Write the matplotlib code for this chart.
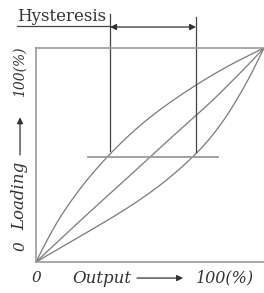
import matplotlib
matplotlib.use("Agg")
from matplotlib import pyplot as plt
from matplotlib.path import Path
from matplotlib.patches import PathPatch

# curves (fraction of full scale)
upper_x = [0, 0.03, 0.07, 0.11, 0.16, 0.22, 0.31, 0.40, 0.48, 0.56, 0.63, 0.70, 0.78, 0.85, 0.93, 1.0]
upper_y = [0, 0.064, 0.145, 0.217, 0.295, 0.38, 0.49, 0.585, 0.66, 0.725, 0.777, 0.826, 0.878, 0.92, 0.964, 1.0]

middle_x = [0, 0.20, 0.35, 0.50, 0.63, 0.70, 0.78, 0.85, 0.93, 1.0]
middle_y = [0, 0.20, 0.344, 0.49, 0.617, 0.683, 0.760, 0.835, 0.92, 1.0]

lower_x = [0, 0.10, 0.20, 0.30, 0.40, 0.50, 0.60, 0.70, 0.76, 0.81, 0.85, 0.89, 0.93, 0.965, 1.0]
lower_y = [0, 0.062, 0.124, 0.186, 0.251, 0.323, 0.405, 0.503, 0.573, 0.642, 0.705, 0.775, 0.851, 0.923, 1.0]

# hysteresis marker
level = 0.49
hyst_left = 0.325
hyst_right = 0.702


def smooth_curve(ax, xs, ys, **kw):
    # quadratic b-spline through the read points, drawn by matplotlib's path renderer
    pts = list(zip(xs, ys))
    verts = [pts[0]]
    codes = [Path.MOVETO]
    for i in range(1, len(pts) - 1):
        mid = ((pts[i][0] + pts[i + 1][0]) / 2, (pts[i][1] + pts[i + 1][1]) / 2)
        if i == len(pts) - 2:
            mid = pts[-1]
        verts += [pts[i], mid]
        codes += [Path.CURVE3, Path.CURVE3]
    ax.add_patch(PathPatch(Path(verts, codes), fill=False, **kw))


W, H = 264, 293
fig = plt.figure(figsize=(W / 100, H / 100), dpi=100)
ax = fig.add_axes([36 / W, (H - 262) / H, 228 / W, 214 / H])
ax.set_xlim(0, 1)
ax.set_ylim(0, 1)
ax.set_xticks([])
ax.set_yticks([])
for side in ["left", "bottom", "top"]:
    ax.spines[side].set_color("#9a9a9a")
    ax.spines[side].set_linewidth(1.2)
ax.spines["right"].set_visible(False)

curve_color = "#7a7a7a"
smooth_curve(ax, upper_x, upper_y, edgecolor=curve_color, lw=0.9)
smooth_curve(ax, middle_x, middle_y, edgecolor=curve_color, lw=0.9)
smooth_curve(ax, lower_x, lower_y, edgecolor=curve_color, lw=0.9)

# horizontal level line
ax.plot([0.228, 0.798], [level, level], color="#9a9a9a", lw=1.3)

# vertical lines up to the hysteresis arrow
ax.plot([hyst_left, hyst_left], [0.52, 1.159], color="#444444", lw=0.9, clip_on=False)
ax.plot([hyst_right, hyst_right], [0.515, 1.145], color="#444444", lw=0.9, clip_on=False)

# label + underline + arrow
serif = "DejaVu Serif"
ax.text(-0.083, 1.128, "Hysteresis", fontsize=12, family=serif,
        color="#333333", ha="left", va="baseline", clip_on=False)
ax.plot([-0.083, hyst_left], [1.103, 1.103], color="#444444", lw=0.9, clip_on=False)
ax.annotate("", xy=(hyst_right, 1.098), xytext=(hyst_left, 1.098),
            arrowprops=dict(arrowstyle="<|-|>", color="#333333", lw=0.9,
                            mutation_scale=9, shrinkA=0, shrinkB=0),
            annotation_clip=False)

# axis labels
lab = dict(family=serif, style="italic", color="#333333", clip_on=False)
ax.text(0.0, -0.075, "0", ha="center", va="center", fontsize=11, **lab)
ax.text(0.158, -0.075, "Output", ha="left", va="center", fontsize=12, **lab)
ax.annotate("", xy=(0.645, -0.075), xytext=(0.443, -0.075),
            arrowprops=dict(arrowstyle="-|>", color="#333333", lw=0.9,
                            mutation_scale=9, shrinkA=0, shrinkB=0),
            annotation_clip=False)
ax.text(0.702, -0.075, "100(%)", ha="left", va="center", fontsize=11.5, **lab)

ax.text(-0.07, 0.075, "0", ha="center", va="center", rotation=90, fontsize=11, **lab)
ax.text(-0.07, 0.308, "Loading", ha="center", va="center", rotation=90, fontsize=12, **lab)
ax.annotate("", xy=(-0.07, 0.676), xytext=(-0.07, 0.5),
            arrowprops=dict(arrowstyle="-|>", color="#333333", lw=0.9,
                            mutation_scale=9, shrinkA=0, shrinkB=0),
            annotation_clip=False)
ax.text(-0.07, 0.89, "100(%)", ha="center", va="center", rotation=90, fontsize=10, **lab)

fig.savefig("out.png", dpi=100)
